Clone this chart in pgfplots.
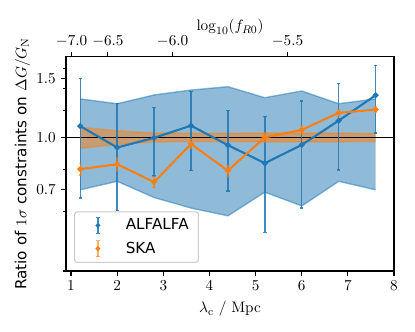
\documentclass[11pt,border=0pt]{standalone}
\usepackage[no-math]{fontspec}
\setmainfont{DejaVu Sans}
\usepackage{pgfplots}
\pgfplotsset{compat=1.18}
\usepgfplotslibrary{fillbetween}
\definecolor{tabblue}{HTML}{1F77B4}
\definecolor{taborange}{HTML}{FF7F0E}
\begin{document}
\begin{tikzpicture}
\begin{axis}[
  at={(0,0)}, anchor=south west,
  width=236.2pt, height=154.3pt, scale only axis,
  xmin=0.89, xmax=8,
  ymode=log, ymin=0.4, ymax=1.74,
  xtick={1,2,3,4,5,6,7,8},
  xticklabels={$1$,$2$,$3$,$4$,$5$,$6$,$7$,$8$},
  ytick={0.7,1.0,1.5}, yticklabels={$0.7$,$1.0$,$1.5$},
  minor ytick={0.4,0.6,0.8,1.2,1.4,1.6},
  xtick pos=left, ytick pos=left,
  tick align=outside,
  major tick length=3.5pt, minor tick length=2pt,
  axis line style={line width=0.8pt},
  every tick/.style={black, line width=0.8pt},
  xlabel={$\lambda_{\mathrm{c}}\ /\ \mathrm{Mpc}$},
  ylabel={Ratio of $1\sigma$ constraints on $\Delta G/G_{\mathrm{N}}$},
  ylabel shift=-3pt,
]
% blue band
\addplot[name path=bt, tabblue, draw opacity=0.5, line width=1pt, forget plot] coordinates {
(1.2,1.302)(2.0,1.26)(2.8,1.338)(3.6,1.384)(4.4,1.416)(5.2,1.313)(6.0,1.375)(6.8,1.26)(7.6,1.302)};
\addplot[name path=bb, tabblue, draw opacity=0.5, line width=1pt, forget plot] coordinates {
(1.2,0.698)(2.0,0.74)(2.8,0.662)(3.6,0.616)(4.4,0.584)(5.2,0.687)(6.0,0.625)(6.8,0.74)(7.6,0.698)};
\addplot[tabblue, fill opacity=0.5, draw=none, forget plot] fill between[of=bt and bb];
% orange band
\addplot[name path=ot, taborange, draw opacity=0.5, line width=1pt, forget plot] coordinates {
(1.2,1.072)(2.0,1.047)(2.8,1.03)(3.6,1.029)(4.4,1.029)(5.2,1.03)(6.0,1.03)(6.8,1.03)(7.6,1.028)};
\addplot[name path=ob, taborange, draw opacity=0.5, line width=1pt, forget plot] coordinates {
(1.2,0.928)(2.0,0.953)(2.8,0.97)(3.6,0.971)(4.4,0.971)(5.2,0.97)(6.0,0.97)(6.8,0.97)(7.6,0.972)};
\addplot[taborange, fill opacity=0.5, draw=none, forget plot] fill between[of=ot and ob];
% reference line
\addplot[black, line width=1pt, forget plot] coordinates {(0.89,1)(8,1)};
% ALFALFA
\addplot[tabblue, line width=1.5pt, mark=*, mark size=1.3pt,
  error bars/.cd, y dir=both, y explicit,
  error bar style={line width=1pt, tabblue, opacity=0.85},
  error mark options={rotate=90, mark size=1.2pt, line width=1pt, tabblue, opacity=0.85},
  ]
  coordinates {
  (1.2,1.08) +- (0,0.42)
  (2.0,0.933) +- (0,0.328)
  (2.8,0.997) +- (0,0.23)
  (3.6,1.084) +- (0,0.288)
  (4.4,0.948) +- (0,0.255)
  (5.2,0.838) +- (0,0.317)
  (6.0,0.95) +- (0,0.333)
  (6.8,1.122) +- (0,0.323)
  (7.6,1.335) +- (0,0.305)
  };
% SKA
\addplot[taborange, line width=1.5pt, mark=*, mark size=1.3pt,
  error bars/.cd, y dir=both, y explicit,
  error bar style={line width=1pt, taborange, opacity=0.6},
  error mark options={rotate=90, mark size=1.2pt, line width=1pt, taborange, opacity=0.6},
  ]
  coordinates {
  (1.2,0.804) +- (0,0.032)
  (2.0,0.832) +- (0,0.039)
  (2.8,0.736) +- (0,0.028)
  (3.6,0.956) +- (0,0.03)
  (4.4,0.796) +- (0,0.03)
  (5.2,1.0) +- (0,0.03)
  (6.0,1.053) +- (0,0.028)
  (6.8,1.183) +- (0,0.027)
  (7.6,1.21) +- (0,0.025)
  };
\end{axis}
\begin{axis}[
  at={(0,0)}, anchor=south west,
  width=236.2pt, height=154.3pt, scale only axis,
  xmin=0.89, xmax=8, ymin=0, ymax=1,
  axis x line*=top, axis y line=none,
  xtick={1.012,1.7995,3.2,5.6905},
  xticklabels={$-7.0$,$-6.5$,$-6.0$,$-5.5$},
  tick align=outside,
  major tick length=3.5pt,
  axis line style={line width=0.8pt},
  every tick/.style={black, line width=0.8pt},
  xlabel={$\log_{10}(f_{R0})$},
  xlabel style={yshift=-7pt},
  legend style={at={(0.0246,0.0376)}, anchor=south west, draw=black!20, line width=0.8pt,
    rounded corners=2pt, fill=white, fill opacity=0.8, text opacity=1,
    row sep=3pt, inner xsep=4pt, inner ysep=3pt, nodes={inner xsep=3pt}},
  legend cell align=left,
]
\addlegendimage{legend image code/.code={
  \draw[tabblue, line width=1pt, opacity=0.85] (0.45cm,-0.2cm) -- (0.45cm,0.2cm);
  \draw[tabblue, line width=1pt, opacity=0.85] (0.41cm,-0.2cm) -- (0.49cm,-0.2cm);
  \draw[tabblue, line width=1pt, opacity=0.85] (0.41cm,0.2cm) -- (0.49cm,0.2cm);
  \fill[tabblue] (0.45cm,0) circle (1.3pt);
  \path[draw=none,fill=none] (0,0) -- (1.05cm,0);}}
\addlegendentry{ALFALFA}
\addlegendimage{legend image code/.code={
  \draw[taborange, line width=1pt, opacity=0.6] (0.45cm,-0.2cm) -- (0.45cm,0.2cm);
  \draw[taborange, line width=1pt, opacity=0.6] (0.41cm,-0.2cm) -- (0.49cm,-0.2cm);
  \draw[taborange, line width=1pt, opacity=0.6] (0.41cm,0.2cm) -- (0.49cm,0.2cm);
  \fill[taborange] (0.45cm,0) circle (1.3pt);
  \path[draw=none,fill=none] (0,0) -- (1.05cm,0);}}
\addlegendentry{SKA}
\end{axis}
\pgfresetboundingbox
\path[use as bounding box] (-47.5pt,-43.9pt) rectangle (251.3pt,195.1pt);
\end{tikzpicture}
\end{document}
